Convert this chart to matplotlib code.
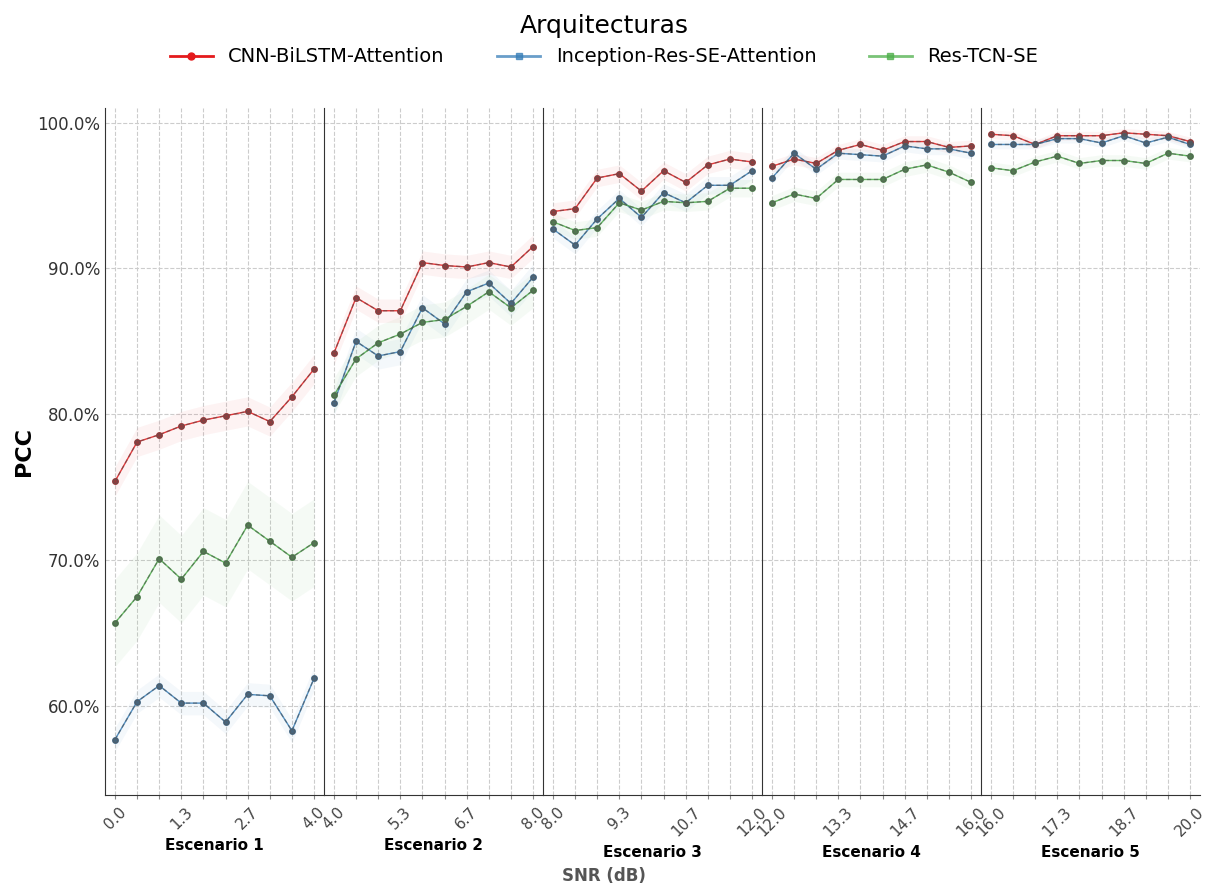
import numpy as np
import matplotlib
matplotlib.use("Agg")
import matplotlib.pyplot as plt
from matplotlib.ticker import PercentFormatter, FixedLocator
from matplotlib.lines import Line2D

plt.rcParams['font.family'] = ['DejaVu Sans']

scenarios = ["Escenario 1", "Escenario 2", "Escenario 3", "Escenario 4", "Escenario 5"]
snr_ranges = [(0.0, 4.0), (4.0, 8.0), (8.0, 12.0), (12.0, 16.0), (16.0, 20.0)]
n_points = 10

models = ["CNN-BiLSTM-Attention", "Inception-Res-SE-Attention", "Res-TCN-SE"]
colors = ["#e41a1c", "#377eb8", "#4daf4a"]
markers = ["o", "s", "s"]

# PCC (%) per scenario, per model
cnn = [
    [75.4, 78.1, 78.6, 79.2, 79.6, 79.9, 80.2, 79.5, 81.2, 83.1],
    [84.2, 88.0, 87.1, 87.1, 90.4, 90.2, 90.1, 90.4, 90.1, 91.5],
    [93.9, 94.1, 96.2, 96.5, 95.3, 96.7, 95.9, 97.1, 97.5, 97.3],
    [97.0, 97.5, 97.2, 98.1, 98.5, 98.1, 98.7, 98.7, 98.3, 98.4],
    [99.2, 99.1, 98.5, 99.1, 99.1, 99.1, 99.3, 99.2, 99.1, 98.7],
]
inception = [
    [57.7, 60.3, 61.4, 60.2, 60.2, 58.9, 60.8, 60.7, 58.3, 61.9],
    [80.8, 85.0, 84.0, 84.3, 87.3, 86.2, 88.4, 89.0, 87.6, 89.4],
    [92.7, 91.6, 93.4, 94.8, 93.5, 95.2, 94.5, 95.7, 95.7, 96.7],
    [96.2, 97.9, 96.8, 97.9, 97.8, 97.7, 98.4, 98.2, 98.2, 97.9],
    [98.5, 98.5, 98.5, 98.9, 98.9, 98.6, 99.1, 98.6, 99.0, 98.5],
]
restcn = [
    [65.7, 67.5, 70.1, 68.7, 70.6, 69.8, 72.4, 71.3, 70.2, 71.2],
    [81.3, 83.8, 84.9, 85.5, 86.3, 86.5, 87.4, 88.4, 87.3, 88.5],
    [93.2, 92.6, 92.8, 94.5, 94.0, 94.6, 94.5, 94.6, 95.5, 95.5],
    [94.5, 95.1, 94.8, 96.1, 96.1, 96.1, 96.8, 97.1, 96.6, 95.9],
    [96.9, 96.7, 97.3, 97.7, 97.2, 97.4, 97.4, 97.2, 97.9, 97.7],
]
# half-width of the uncertainty band (%) per scenario, per model
band_cnn = [1.0, 0.8, 0.6, 0.4, 0.3]
band_inc = [0.8, 0.9, 0.6, 0.4, 0.3]
band_res = [3.0, 1.2, 0.6, 0.5, 0.4]

series = [cnn, inception, restcn]
bands = [band_cnn, band_inc, band_res]

fig = plt.figure(figsize=(12.08, 8.85), dpi=100)
left, right, bottom, top = 105 / 1208, 1200 / 1208, 1 - 795 / 885, 1 - 108 / 885
w = (right - left) / 5
axes = []
for i in range(5):
    ax = fig.add_axes([left + i * w, bottom, w, top - bottom],
                      sharey=axes[0] if axes else None)
    axes.append(ax)

for i, ax in enumerate(axes):
    lo, hi = snr_ranges[i]
    x = np.linspace(lo, hi, n_points)
    for k in range(3):
        y = np.array(series[k][i]) / 100.0
        b = bands[k][i] / 100.0
        ax.fill_between(x, y - b, y + b, color=colors[k], alpha=0.05, lw=0, zorder=2)
        ax.plot(x, y, color=colors[k], lw=1.0, alpha=0.85, zorder=3)
        ax.plot(x, y, color="#444444", lw=1.0, ls=(0, (3, 2)), alpha=0.5, zorder=4)
        ax.plot(x, y, ls="none", marker="o", ms=3.8, color=colors[k], zorder=5)
        ax.plot(x, y, ls="none", marker="o", ms=3.8, color="#555555", alpha=0.6, zorder=6)
    pad = (hi - lo) * 0.05
    ax.set_xlim(lo - pad, hi + pad)
    ax.set_ylim(0.539, 1.010)
    ax.xaxis.set_major_locator(FixedLocator(x))
    labels = [f"{v:.1f}" if j % 3 == 0 else "" for j, v in enumerate(x)]
    ax.set_xticklabels(labels, rotation=45, fontsize=11, color="#444444")
    ax.tick_params(axis="x", length=3, color="#888888", pad=4)
    ax.grid(True, ls="--", color="#cccccc", lw=0.8, zorder=0)
    ax.set_axisbelow(True)
    ax.set_xlabel(scenarios[i], fontsize=11, fontweight="bold", labelpad=4)
    ax.spines["top"].set_visible(False)
    ax.spines["right"].set_visible(False)
    ax.spines["left"].set_color("#333333")
    ax.spines["bottom"].set_color("#333333")
    if i == 0:
        ax.yaxis.set_major_locator(FixedLocator([0.6, 0.7, 0.8, 0.9, 1.0]))
        ax.yaxis.set_major_formatter(PercentFormatter(1.0, decimals=1))
        ax.tick_params(axis="y", labelsize=12, labelcolor="#333333", length=0)
        ax.set_ylabel("PCC", fontsize=16, fontweight="bold", labelpad=2)
    else:
        ax.tick_params(axis="y", left=False, labelleft=False)

fig.text(0.5, 1 - 876 / 885, "SNR (dB)", ha="center", va="center", fontsize=12,
         fontweight="bold", color="#555555")

handles = [Line2D([0], [0], color=c, marker=m, ms=5, lw=2, alpha=a)
           for c, m, a in zip(colors, markers, [1.0, 0.75, 0.75])]
leg = fig.legend(handles, models, loc="upper center", bbox_to_anchor=(0.5, 1.0),
                 ncol=3, frameon=False, fontsize=14, title="Arquitecturas",
                 title_fontsize=18, columnspacing=2.7, handlelength=2.2,
                 borderaxespad=0.3)

fig.savefig("out.png", dpi=100)
